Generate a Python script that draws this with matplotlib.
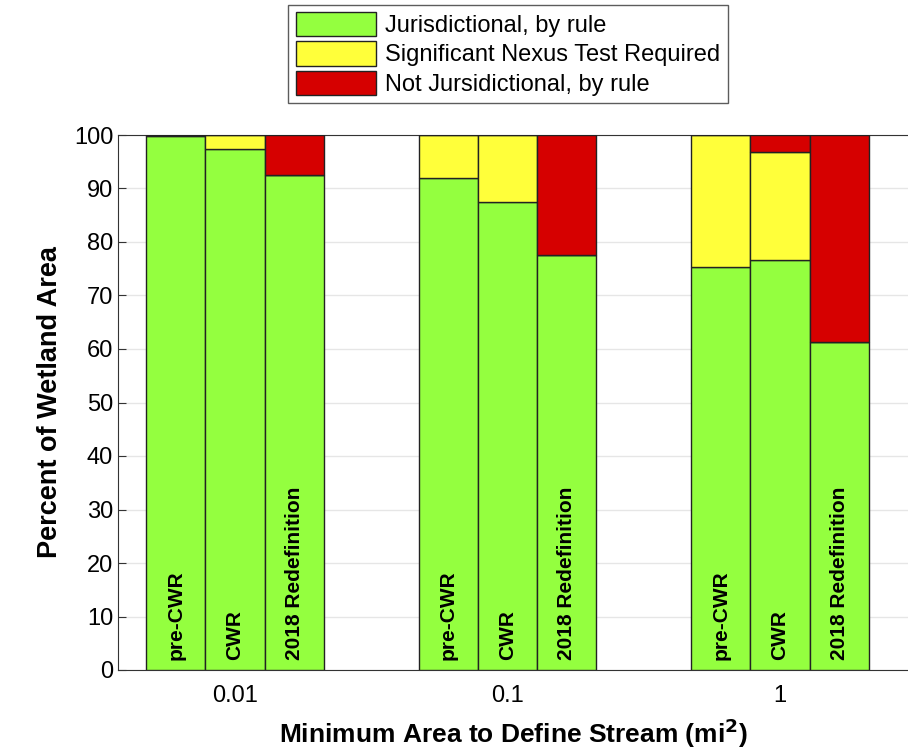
import matplotlib
matplotlib.use("Agg")
import matplotlib.pyplot as plt
import numpy as np
from matplotlib.patches import Patch

plt.rcParams['font.family'] = ['Liberation Sans', 'DejaVu Sans']

groups = ['0.01', '0.1', '1']
rules = ['pre-CWR', 'CWR', '2018 Redefinition']
# percent of wetland area, rows = groups, cols = rules
juris = np.array([[99.8, 97.3, 92.5],
                  [92.0, 87.5, 77.6],
                  [75.3, 76.6, 61.3]])
nexus = np.array([[0.2, 2.7, 0.0],
                  [8.0, 12.5, 0.0],
                  [24.7, 20.3, 0.0]])
notjur = 100 - juris - nexus

green = '#94ff3f'
yellow = '#ffff3a'
red = '#d60000'

fig = plt.figure(figsize=(9.08, 7.5), dpi=100)
ax = fig.add_axes([118/908, 80/750, 790/908, 535/750])

w = 0.217
for g in range(3):
    for r in range(3):
        x = g + 1 + (r - 1) * w
        ax.bar(x, juris[g, r], w, color=green, edgecolor='#222222', linewidth=1, zorder=3)
        ax.bar(x, nexus[g, r], w, bottom=juris[g, r], color=yellow,
               edgecolor='#222222', linewidth=1, zorder=3)
        ax.bar(x, notjur[g, r], w, bottom=juris[g, r] + nexus[g, r], color=red,
               edgecolor='#222222', linewidth=1, zorder=3)
        ax.text(x, 1.8, rules[r], rotation=90, ha='center', va='bottom',
                fontsize=15, fontweight='bold', zorder=4)

ax.set_xlim(1 - 117/272.5, 3 + 128/272.5)
ax.set_ylim(0, 100)
ax.set_xticks([1, 2, 3])
ax.set_xticklabels(groups)
ax.set_yticks(range(0, 101, 10))
ax.tick_params(axis='both', labelsize=17, direction='in', length=6, color='#333333')
ax.tick_params(axis='x', pad=11, top=True)
ax.grid(axis='y', color='#e6e6e6', linewidth=1, zorder=0)
for s in ['left', 'bottom', 'top']:
    ax.spines[s].set_color('#333333')
ax.spines['right'].set_visible(False)

ax.set_ylabel('Percent of Wetland Area', fontsize=19.5, fontweight='bold', labelpad=8)
ax.set_xlabel('Minimum Area to Define Stream (mi$^\\mathbf{2}$)', fontsize=19,
              fontweight='bold', labelpad=7)

handles = [Patch(facecolor=green, edgecolor='#222222'),
           Patch(facecolor=yellow, edgecolor='#222222'),
           Patch(facecolor=red, edgecolor='#222222')]
labels = ['Jurisdictional, by rule', 'Significant Nexus Test Required',
          'Not Jursidictional, by rule']
leg = fig.legend(handles, labels, loc='upper center', bbox_to_anchor=(508/908, 1 - 5/750),
                 fontsize=17, frameon=True, fancybox=False, edgecolor='#333333',
                 handlelength=3.4, handleheight=1.2, handletextpad=0.4,
                 labelspacing=0.18, borderpad=0.3, borderaxespad=0)
leg.get_frame().set_linewidth(1)

fig.savefig('out.png', dpi=100)
